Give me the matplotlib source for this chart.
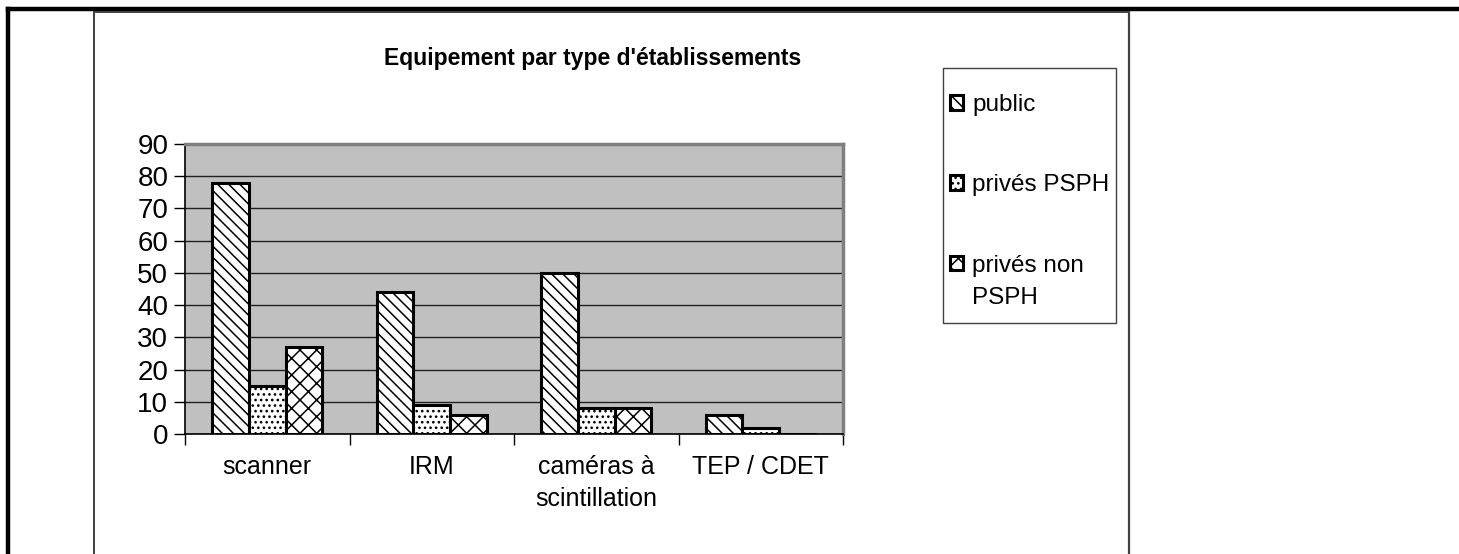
import numpy as np
import matplotlib
matplotlib.use('Agg')
import matplotlib.pyplot as plt
from matplotlib.lines import Line2D
from matplotlib.patches import Rectangle

## Data

categories = ['scanner', 'IRM', 'caméras à\nscintillation', 'TEP / CDET']
series = ['public', 'privés PSPH', 'privés non']
series_extra = 'PSPH'   # second line of the last legend label
public = [78, 44, 50, 6]
prive_psph = [15, 9, 8, 2]
prive_non_psph = [27, 6, 8, 0]
y_ticks = [0, 10, 20, 30, 40, 50, 60, 70, 80, 90]

plt.rcParams['font.family'] = ['Liberation Sans', 'DejaVu Sans']
plt.rcParams['hatch.linewidth'] = 1.1
plt.rcParams['hatch.color'] = '#3a3a3a'

W, H = 1459, 554
fig = plt.figure(figsize=(W / 100, H / 100), dpi=100)
fig.patch.set_facecolor('white')

## Frame lines around the chart (figure pixel coords -> fraction)
def px(x, y):
    return x / W, 1 - y / H

for (x0, y0), (x1, y1), lw, col in [
        ((8, 9), (1459, 9), 3.2, 'black'),
        ((8, 9), (8, 554), 3.2, 'black'),
        ((94, 12), (1129, 12), 1.4, '#404040'),
        ((94, 12), (94, 554), 1.4, '#404040'),
        ((1129, 12), (1129, 554), 1.6, '#404040')]:
    a, b = px(x0, y0)
    c, d = px(x1, y1)
    fig.add_artist(Line2D([a, c], [b, d], lw=lw, color=col,
                          transform=fig.transFigure))

## Plot area
left, bottom = px(185, 434)
right, top = px(843, 144)
ax = fig.add_axes([left, bottom, right - left, top - bottom])
ax.set_facecolor('#c0c0c0')

x = np.arange(len(categories))
w = 0.222
hatches = ['\\\\\\', '...', 'xx']
vals = [public, prive_psph, prive_non_psph]
handles = []
for i, (v, hch, lab) in enumerate(zip(vals, hatches, series)):
    b = ax.bar(x + (i - 1) * w, v, width=w, facecolor='white',
               edgecolor='black', linewidth=2.2, hatch=hch, label=lab,
               zorder=3)
    handles.append(b)

ax.set_xlim(-0.5, len(categories) - 0.5)
ax.set_ylim(0, 90)
ax.set_yticks(y_ticks)
ax.yaxis.grid(True, color='#202020', linewidth=1.0, zorder=1)
ax.set_axisbelow(True)
ax.tick_params(axis='y', labelsize=20, length=8, width=1, pad=4)

ax.set_xticks(np.arange(len(categories) + 1) - 0.5)
ax.set_xticklabels([])
ax.set_xticks(x, minor=True)
ax.set_xticklabels(categories, minor=True, fontsize=18, linespacing=1.45)
ax.tick_params(axis='x', which='major', length=8, width=1)
ax.tick_params(axis='x', which='minor', length=0, pad=15)

for s in ['left', 'bottom']:
    ax.spines[s].set_color('black')
    ax.spines[s].set_linewidth(1.2)
for s in ['top', 'right']:
    ax.spines[s].set_color('#808080')
    ax.spines[s].set_linewidth(2.5)

fig.text(0.406, 1 - 58 / H, "Equipement par type d'établissements",
         ha='center', va='center', fontsize=16.5, fontweight='bold')

## Legend: box drawn separately, entries placed by matplotlib
bx0, by0 = px(943, 323)
bx1, by1 = px(1116, 68)
fig.add_artist(Rectangle((bx0, by0), bx1 - bx0, by1 - by0, fill=False,
                         edgecolor='#404040', linewidth=1.0,
                         transform=fig.transFigure))
lx, ly = px(950, 94)
leg = fig.legend(handles=handles, labels=series, loc='upper left',
                 bbox_to_anchor=(lx, ly), bbox_transform=fig.transFigure,
                 fontsize=17.5, frameon=False,
                 handlelength=0.55, handleheight=0.55, handletextpad=0.37,
                 labelspacing=2.4, borderpad=0, borderaxespad=0)

# second line of the last label, placed under its first line
fig.canvas.draw()
bb = leg.get_texts()[2].get_window_extent()
fig.text(bb.x0 / W, (bb.y0 - 32) / H, series_extra, ha='left',
         va='bottom', fontsize=17.5)

fig.savefig('out.png', dpi=100)
